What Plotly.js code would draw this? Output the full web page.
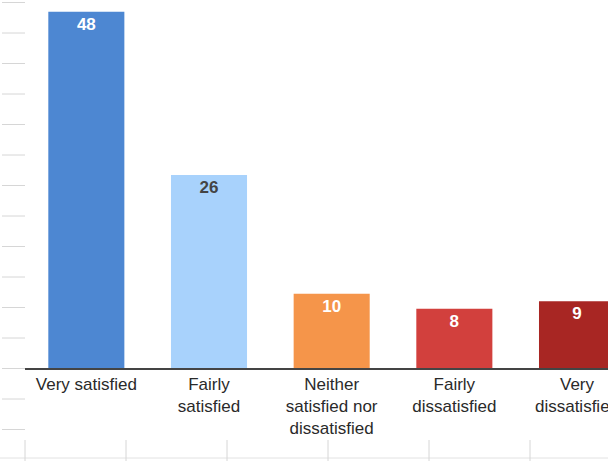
<!DOCTYPE html>
<html>
<head>
<meta charset="utf-8">
<script src="https://cdn.plot.ly/plotly-3.0.1.min.js"></script>
<style>html,body{margin:0;padding:0;background:#fff;}#chart{width:608px;height:461px;}</style>
</head>
<body>
<div id="chart"></div>
<script>
const categories = ["Very satisfied", "Fairly<br>satisfied", "Neither<br>satisfied nor<br>dissatisfied", "Fairly<br>dissatisfied", "Very<br>dissatisfied"];
const values = [48, 26, 10, 8, 9];
const barColors = ["#4D87D2", "#A8D2FC", "#F5954A", "#D2403D", "#A82623"];
const labelColors = ["#ffffff", "#444444", "#ffffff", "#ffffff", "#ffffff"];

const W = 608, H = 461, ML = 25, MB = 93, PH = H - MB, PW = W - ML;
const px = x => (x - ML) / PW;
const py = y => (PH - y) / PH;

const shapes = [];
const stubY = [];
for (let i = 0; i < 15; i++) stubY.push(2.5 + i * 30.5);
stubY.forEach(y => shapes.push({type:'line', xref:'paper', yref:'paper', x0:px(2), x1:px(25), y0:py(y), y1:py(y), line:{color:'#d6d6d6', width:1}}));
shapes.push({type:'line', xref:'paper', yref:'paper', x0:px(0), x1:px(608), y0:py(458), y1:py(458), line:{color:'#e2e2e2', width:1}});
[25, 126, 227, 328, 429, 530].forEach(x => shapes.push({type:'line', xref:'paper', yref:'paper', x0:px(x), x1:px(x), y0:py(440), y1:py(461), line:{color:'#d6d6d6', width:1}}));

const trace = {
  type: 'bar',
  x: categories.map((c, i) => i),
  y: values,
  width: 0.62,
  marker: {color: barColors},
  text: values.map(String),
  textposition: 'inside',
  insidetextanchor: 'end',
  textangle: 0,
  constraintext: 'none',
  textfont: {family: 'Liberation Sans, Arial, sans-serif', size: 17, color: labelColors, weight: 'bold'},
  hoverinfo: 'none'
};

const layout = {
  width: W, height: H,
  margin: {l: ML, r: 0, t: 0, b: MB, pad: 0},
  paper_bgcolor: '#ffffff', plot_bgcolor: '#ffffff',
  showlegend: false,
  font: {family: 'Liberation Sans, Arial, sans-serif', size: 17, color: '#222'},
  xaxis: {
    range: [-0.5, 4.2526],
    tickmode: 'array', tickvals: [0,1,2,3,4], ticktext: categories,
    ticks: '', showgrid: false, zeroline: false,
    showline: true, linecolor: '#444', linewidth: 1.5,
    ticklabeloverflow: 'allow',
    tickfont: {size: 17, color: '#2a2a2a'}
  },
  yaxis: {
    range: [0, 49.6], showgrid: false, zeroline: false, showline: false,
    showticklabels: false, ticks: ''
  },
  shapes: shapes
};

Plotly.newPlot('chart', [trace], layout, {staticPlot: true, displayModeBar: false});
</script>
</body>
</html>
